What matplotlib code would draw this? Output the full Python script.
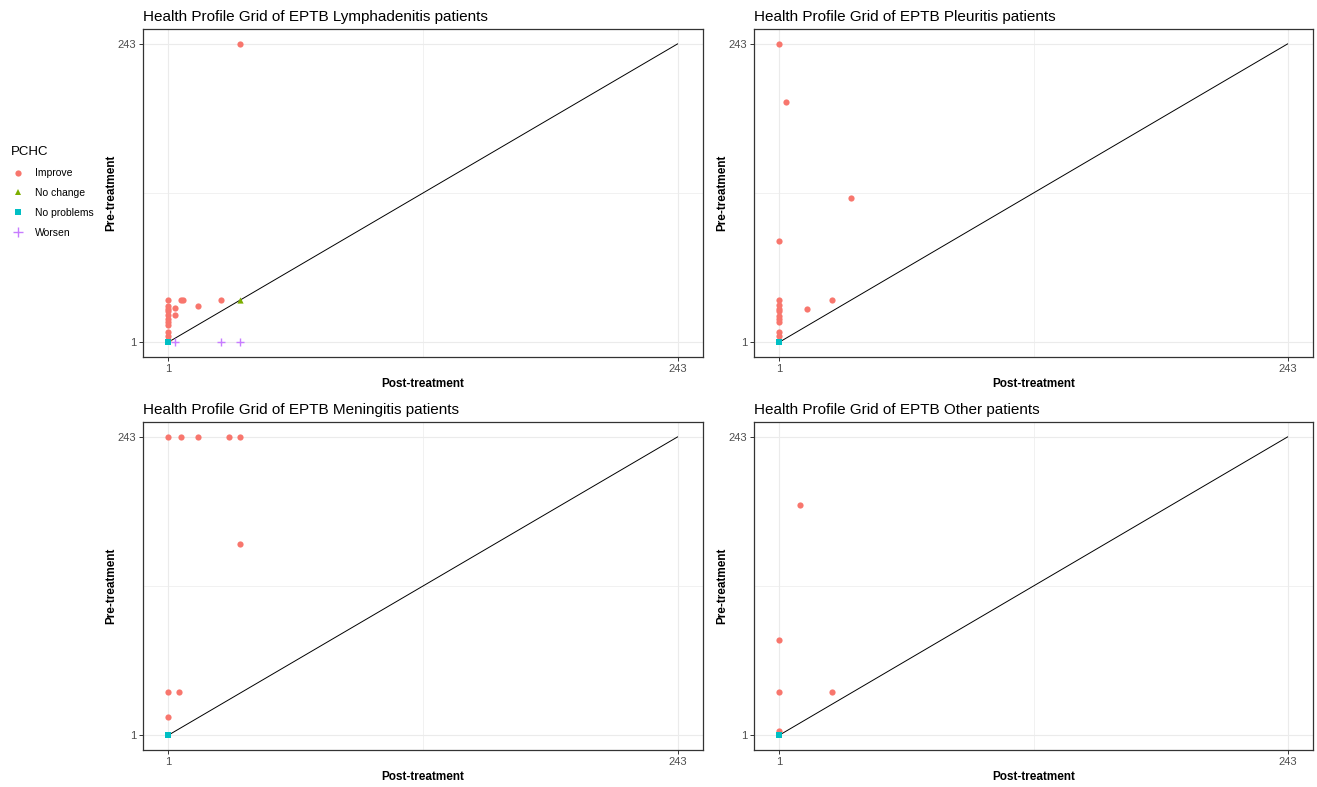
import matplotlib
matplotlib.use("Agg")
import matplotlib.pyplot as plt
from matplotlib.lines import Line2D

plt.rcParams['font.family'] = ['Liberation Sans', 'DejaVu Sans']

# panel titles
titles = ["Health Profile Grid of EPTB Lymphadenitis patients",
          "Health Profile Grid of EPTB Pleuritis patients",
          "Health Profile Grid of EPTB Meningitis patients",
          "Health Profile Grid of EPTB Other patients"]

# Lymphadenitis
lymph_post = [35, 1, 1, 1, 1, 1, 1, 1, 1, 1, 1, 1, 7, 8, 4, 4, 15, 26, 35, 1, 4, 26, 35]
lymph_pre = [243, 35, 30, 28, 26, 23, 20, 17, 15, 9, 6, 3, 35, 35, 29, 23, 30, 35, 35, 1, 1, 1, 1]
lymph_cat = ["Improve"] * 18 + ["No change", "No problems", "Worsen", "Worsen", "Worsen"]

# Pleuritis
pleur_post = [1, 4, 35, 1, 1, 1, 1, 1, 1, 1, 1, 1, 1, 14, 26, 1]
pleur_pre = [243, 196, 118, 83, 35, 31, 28, 26, 22, 20, 17, 9, 6, 28, 35, 1]
pleur_cat = ["Improve"] * 15 + ["No problems"]

# Meningitis
mening_post = [1, 7, 15, 30, 35, 35, 1, 6, 1, 1]
mening_pre = [243, 243, 243, 243, 243, 156, 36, 36, 16, 1]
mening_cat = ["Improve"] * 9 + ["No problems"]

# Other
other_post = [11, 1, 1, 26, 1, 1]
other_pre = [188, 78, 36, 36, 4, 1]
other_cat = ["Improve"] * 5 + ["No problems"]

panels = [(lymph_post, lymph_pre, lymph_cat),
          (pleur_post, pleur_pre, pleur_cat),
          (mening_post, mening_pre, mening_cat),
          (other_post, other_pre, other_cat)]

categories = ["Improve", "No change", "No problems", "Worsen"]
colors = {"Improve": "#F8766D", "No change": "#7CAE00",
          "No problems": "#00BFC4", "Worsen": "#C77CFF"}
markers = {"Improve": "o", "No change": "^", "No problems": "s", "Worsen": "+"}

lo, hi = 1, 243
pad = (hi - lo) * 0.05

W, H = 1317, 787
fig = plt.figure(figsize=(W / 100, H / 100), dpi=100)

# axes boxes in pixels: left, top, right, bottom
boxes = [(143, 29, 703, 357), (754, 29, 1313, 357),
         (143, 422, 703, 750), (754, 422, 1313, 750)]

for (post, pre, cat), title, (l, t, r, b) in zip(panels, titles, boxes):
    ax = fig.add_axes([l / W, 1 - b / H, (r - l) / W, (b - t) / H])
    ax.set_xlim(lo - pad, hi + pad)
    ax.set_ylim(lo - pad, hi + pad)
    ax.set_xticks([lo, hi])
    ax.set_yticks([lo, hi])
    ax.set_xticks([(lo + hi) / 2], minor=True)
    ax.set_yticks([(lo + hi) / 2], minor=True)
    ax.grid(True, which="major", color="#EBEBEB", linewidth=0.8)
    ax.grid(True, which="minor", color="#EBEBEB", linewidth=0.5)
    ax.tick_params(which="minor", length=0)
    ax.tick_params(which="major", length=3, color="#333333", width=0.7,
                   labelsize=8, labelcolor="#4D4D4D", pad=2)
    for s in ax.spines.values():
        s.set_color("#333333")
        s.set_linewidth(0.9)
    ax.set_axisbelow(True)
    ax.plot([lo, hi], [lo, hi], color="black", linewidth=0.7, zorder=2)
    for c in categories:
        xs = [x for x, k in zip(post, cat) if k == c]
        ys = [y for y, k in zip(pre, cat) if k == c]
        if not xs:
            continue
        if c == "Worsen":
            ax.scatter(xs, ys, marker="+", color=colors[c], s=40, linewidths=1.0, zorder=3)
        else:
            ax.scatter(xs, ys, marker=markers[c], color=colors[c], s=20,
                       linewidths=0, zorder=3)
    ax.set_title(title, loc="left", fontsize=11, pad=6)
    ax.set_xlabel("Post-treatment", fontsize=8.5, fontweight="bold", labelpad=3)
    ax.set_ylabel("Pre-treatment", fontsize=8.5, fontweight="bold", labelpad=0)

handles = []
for c in categories:
    if c == "Worsen":
        h = Line2D([], [], linestyle="none", marker="+", color=colors[c],
                   markersize=7, markeredgewidth=1.0)
    else:
        h = Line2D([], [], linestyle="none", marker=markers[c], color=colors[c],
                   markersize=4.5, markeredgewidth=0)
    handles.append(h)

leg = fig.legend(handles, categories, title="PCHC", loc="upper left",
                 bbox_to_anchor=(4 / W, 1 - 139 / H), frameon=False,
                 fontsize=7.5, title_fontsize=9.5, handlelength=1.2,
                 handletextpad=1.1, labelspacing=0.95, borderaxespad=0.3)
leg._legend_box.align = "left"

fig.savefig("out.png", dpi=100)
